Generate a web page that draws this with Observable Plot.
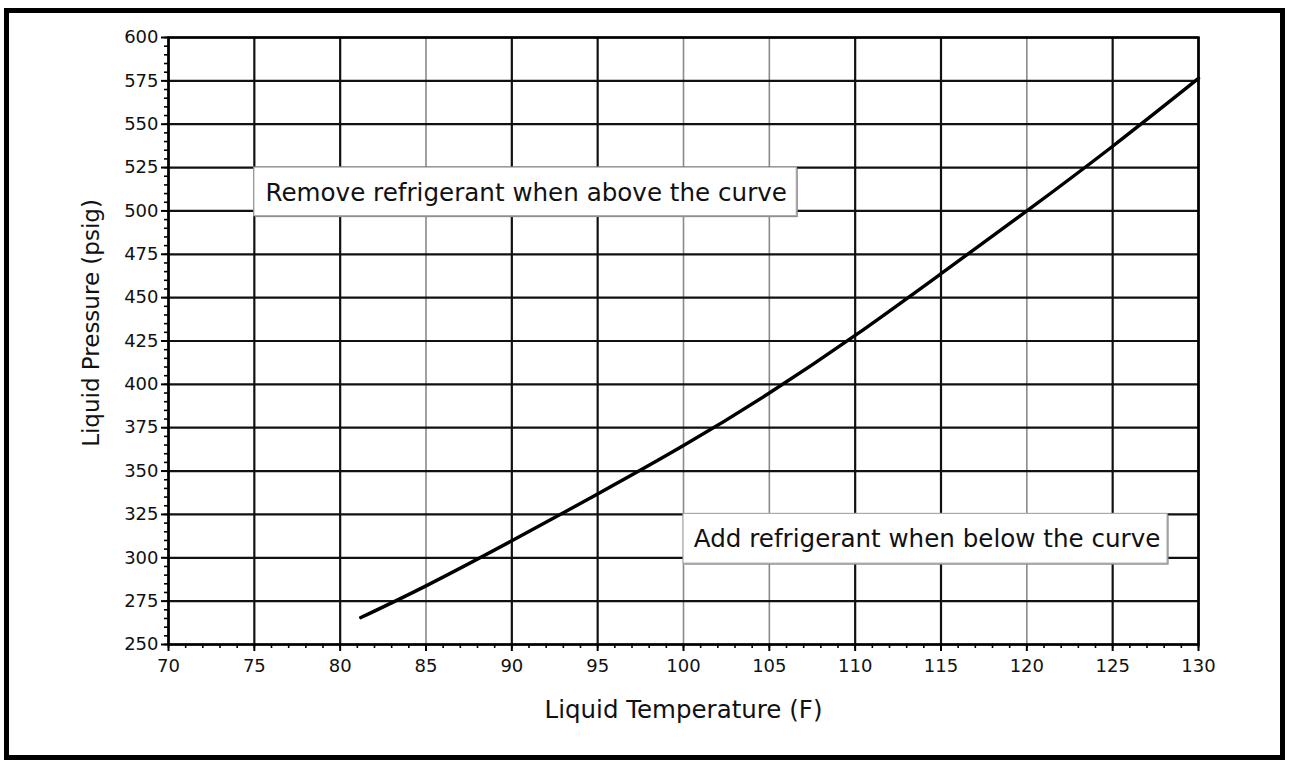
<!DOCTYPE html>
<html><head><meta charset="utf-8">
<script src="https://cdn.jsdelivr.net/npm/d3@7"></script>
<script src="https://cdn.jsdelivr.net/npm/@observablehq/plot@0.6"></script>
<style>
html,body{margin:0;padding:0;background:#fff;}
#wrap{position:relative;width:1290px;height:762px;overflow:hidden;background:#fff;}
#border{position:absolute;left:4px;top:8px;width:1281px;height:752px;box-sizing:border-box;border:5px solid #000;pointer-events:none;}
#chart g[aria-label$="tick label"], #chart g[aria-label$="tick label"] text{font-size:18px !important;}
</style></head><body>
<div id="wrap"><div id="chart"></div><div id="border"></div></div>
<script>
// Data
const temperature = [81.2, 85, 90, 95, 100, 105, 110, 115, 120, 125, 130];
const pressure    = [265.5, 283.8, 309.8, 336.8, 364.7, 395, 428.2, 463.8, 500, 537.3, 576.4];
const xTicks = d3.range(70, 131, 5);
const xMinorTicks = d3.range(70, 131, 1);
const yTicks = d3.range(250, 601, 25);
const yMinorTicks = d3.range(250, 601, 5);
const fadedX = [85, 100, 105, 120];
const xTitle = "Liquid Temperature (F)";
const yTitle = "Liquid Pressure (psig)";
const notes = ["Remove refrigerant when above the curve", "Add refrigerant when below the curve"];

const curve = temperature.map((t, i) => ({t, p: pressure[i]}));

const chart = Plot.plot({
  width: 1290, height: 762,
  marginLeft: 168, marginRight: 92, marginTop: 37, marginBottom: 118,
  x: {domain: [70, 130]},
  y: {domain: [250, 600]},
  style: {fontFamily: "'DejaVu Sans', sans-serif", fontSize: "18px", color: "#000", background: "#fff"},
  marks: [
    Plot.ruleX(xTicks.filter(d => !fadedX.includes(d)), {stroke: "#111", strokeWidth: 2.2}),
    Plot.ruleX(xTicks.filter(d => fadedX.includes(d)), {stroke: "#8a8a8a", strokeWidth: 1.6}),
    Plot.ruleY(yTicks, {stroke: "#111", strokeWidth: 2.2}),
    Plot.frame({stroke: "#000", strokeWidth: 2.5}),
    Plot.axisX(xMinorTicks, {tickSize: 4, tickFormat: () => "", strokeWidth: 1.6, label: null}),
    Plot.axisX(xTicks, {tickSize: 7, tickPadding: 8, strokeWidth: 2, label: null, fontSize: 18, fill: "#111"}),
    Plot.axisY(yMinorTicks, {tickSize: 4, tickFormat: () => "", strokeWidth: 1.6, label: null}),
    Plot.axisY(yTicks, {tickSize: 7, tickPadding: 3, strokeWidth: 2, label: null, fontSize: 18, fill: "#111"}),
    Plot.line(curve, {x: "t", y: "p", stroke: "#000", strokeWidth: 3.4, curve: "natural"}),
    // annotation boxes
    Plot.rect([notes[0]], {x1: 75, x2: 106.6, y1: 497, y2: 525, fill: "#888", dx: 1.5, dy: 1.5}),
    Plot.rect([notes[0]], {x1: 75, x2: 106.6, y1: 497, y2: 525, fill: "#fff", stroke: "#aaa", strokeWidth: 1.2}),
    Plot.text([notes[0]], {x: 75.65, y: 510.1, text: d => d, textAnchor: "start", lineAnchor: "middle", fontSize: 24.6, fill: "#111"}),
    Plot.rect([notes[1]], {x1: 100, x2: 128.2, y1: 296.6, y2: 325.3, fill: "#888", dx: 1.5, dy: 1.5}),
    Plot.rect([notes[1]], {x1: 100, x2: 128.2, y1: 296.6, y2: 325.3, fill: "#fff", stroke: "#aaa", strokeWidth: 1.2}),
    Plot.text([notes[1]], {x: 100.6, y: 310.9, text: d => d, textAnchor: "start", lineAnchor: "middle", fontSize: 24.6, fill: "#111"}),
    // axis titles
    Plot.text([xTitle], {frameAnchor: "bottom", dy: 66, text: d => d, textAnchor: "middle", lineAnchor: "middle", fontSize: 24.5, fill: "#111"}),
    Plot.text([yTitle], {frameAnchor: "left", rotate: -90, dx: -77, dy: -18, text: d => d, textAnchor: "middle", lineAnchor: "middle", fontSize: 23, fill: "#111"})
  ]
});
document.getElementById("chart").appendChild(chart);
</script>
</body></html>
